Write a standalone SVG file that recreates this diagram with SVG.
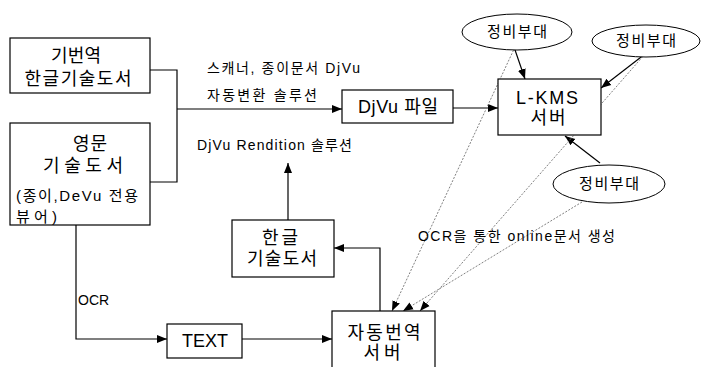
<svg xmlns="http://www.w3.org/2000/svg" width="701" height="367" viewBox="0 0 701 367">
<defs>
<style>
.box{fill:#fff;stroke:#000;stroke-width:1.2}
.ell{fill:#fff;stroke:#000;stroke-width:1}
.ln{fill:none;stroke:#000;stroke-width:1.2}
.dot{fill:none;stroke:#808080;stroke-width:1;stroke-dasharray:2,1.5}
text{font-family:"Liberation Sans","Noto Sans CJK KR",sans-serif;fill:#000}
.t16{font-size:18px;text-anchor:middle}
.t15{font-size:15px;text-anchor:middle}
.t14{font-size:15px}
.t13{font-size:14px}
</style>
<marker id="ah" viewBox="0 0 10 10" refX="10" refY="5" markerWidth="10" markerHeight="10" markerUnits="userSpaceOnUse" orient="auto">
<path d="M0,1 L10,5 L0,9 Z" fill="#000"/>
</marker>
</defs>
<rect width="701" height="367" fill="#fff"/>
<g id="connectors">
<path class="ln" d="M150,70 H177 V182 H150"/>
<path class="ln" d="M177,109 H342" marker-end="url(#ah)"/>
<path class="ln" d="M453,108 H498" marker-end="url(#ah)"/>
<path class="ln" d="M514,47 L525,79" marker-end="url(#ah)"/>
<path class="ln" d="M645,54 L601,88" marker-end="url(#ah)"/>
<path class="ln" d="M600,163 L565,136" marker-end="url(#ah)"/>
<path class="dot" d="M515,47 L392,311" marker-end="url(#ah)"/>
<path class="dot" d="M645,54 L420,311" marker-end="url(#ah)"/>
<path class="dot" d="M582,202 L403,311" marker-end="url(#ah)"/>
<path class="ln" d="M380,311 V248 H334" marker-end="url(#ah)"/>
<path class="ln" d="M288,220 V163" marker-end="url(#ah)"/>
<path class="ln" d="M76,225 V339 H167" marker-end="url(#ah)"/>
<path class="ln" d="M242,339 H332" marker-end="url(#ah)"/>
</g>
<g id="labels">
<text class="t13" x="207" y="73" textLength="153" lengthAdjust="spacing">스캐너, 종이문서 DjVu</text>
<text class="t13" x="207" y="100" textLength="110" lengthAdjust="spacing">자동변환 솔루션</text>
<text class="t13" x="197" y="150" textLength="155" lengthAdjust="spacing">DjVu Rendition 솔루션</text>
<text class="t13" x="418" y="241" textLength="197" lengthAdjust="spacing">OCR을 통한 online문서 생성</text>
<text class="t13" x="78" y="305">OCR</text>
</g>
<g id="n-kibeonyeok">
<rect class="box" x="10" y="38" width="140" height="55"/>
<text class="t16" x="76" y="62" textLength="50" lengthAdjust="spacing">기번역</text>
<text class="t16" x="78" y="85" textLength="107" lengthAdjust="spacing">한글기술도서</text>
</g>
<g id="n-english">
<rect class="box" x="10" y="123" width="140" height="102"/>
<text class="t16" x="90" y="150" textLength="34" lengthAdjust="spacing">영문</text>
<text class="t16" x="83" y="172" textLength="80" lengthAdjust="spacing">기술도서</text>
<text class="t14" x="16" y="201" textLength="122" lengthAdjust="spacing">(종이,DeVu 전용</text>
<text class="t14" x="16" y="222" textLength="41" lengthAdjust="spacing">뷰어)</text>
</g>
<g id="n-djvu">
<rect class="box" x="342" y="90" width="111" height="33"/>
<text class="t16" x="398" y="113" textLength="80" lengthAdjust="spacing">DjVu 파일</text>
</g>
<g id="n-lkms">
<rect class="box" x="498" y="79" width="103" height="56"/>
<text class="t16" x="547" y="104" textLength="62" lengthAdjust="spacing">L-KMS</text>
<text class="t16" x="548" y="124" textLength="35" lengthAdjust="spacing">서버</text>
</g>
<g id="n-unit1">
<ellipse class="ell" cx="517" cy="32" rx="55" ry="18"/>
<text class="t15" x="517" y="37" textLength="60" lengthAdjust="spacing">정비부대</text>
</g>
<g id="n-unit2">
<ellipse class="ell" cx="646" cy="41" rx="54" ry="16"/>
<text class="t15" x="646" y="46" textLength="60" lengthAdjust="spacing">정비부대</text>
</g>
<g id="n-unit3">
<ellipse class="ell" cx="609" cy="184" rx="56" ry="19"/>
<text class="t15" x="609" y="189" textLength="60" lengthAdjust="spacing">정비부대</text>
</g>
<g id="n-hangul">
<rect class="box" x="232" y="220" width="102" height="57"/>
<text class="t16" x="280" y="244" textLength="36" lengthAdjust="spacing">한글</text>
<text class="t16" x="282" y="265" textLength="70" lengthAdjust="spacing">기술도서</text>
</g>
<g id="n-text">
<rect class="box" x="167" y="324" width="75" height="34"/>
<text class="t16" x="205" y="347">TEXT</text>
</g>
<g id="n-translate">
<rect class="box" x="332" y="311" width="103" height="62"/>
<text class="t16" x="384" y="339" textLength="73" lengthAdjust="spacing">자동번역</text>
<text class="t16" x="382" y="359" textLength="37" lengthAdjust="spacing">서버</text>
</g>
</svg>
